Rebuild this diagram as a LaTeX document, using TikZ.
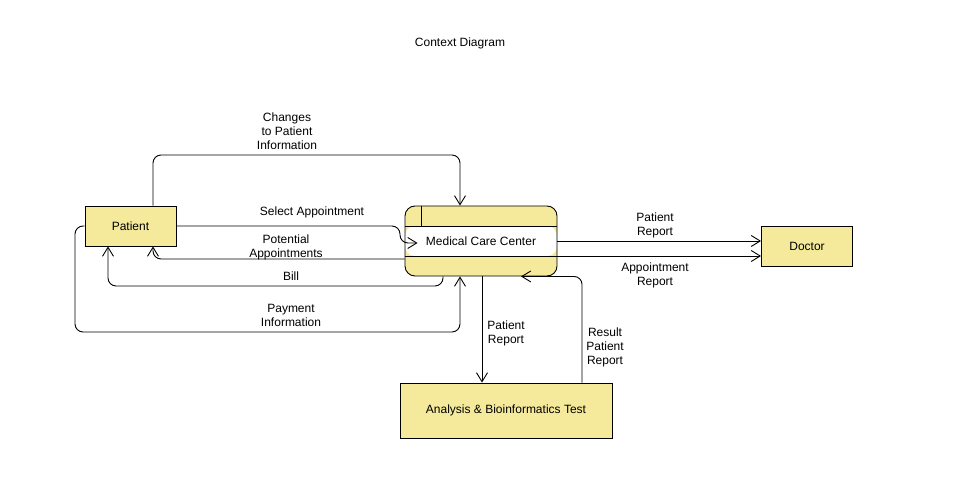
\documentclass[tikz,border=0pt]{standalone}
\usepackage{fontspec}
\setmainfont{Liberation Sans}
\usepackage{tikz}
\definecolor{yellow200}{HTML}{F5EA9B}
\usetikzlibrary{arrows.meta}
\tikzstyle{entity}=[rectangle, draw=black, fill=yellow200, line width=0.9pt, inner sep=0pt, minimum width=91pt, minimum height=40pt]
\tikzstyle{process}=[rectangle, rounded corners=10pt, draw=black, fill=yellow200, line width=0.9pt, inner sep=0pt, minimum width=152pt, minimum height=70pt]
\tikzstyle{flow}=[align=center, font=\fontsize{12}{14}\selectfont]

\begin{document}
\begin{tikzpicture}[x=1pt, y=-1pt, line width=0.9pt, ->, >={Straight Barb[length=9pt,width=11pt]}, font=\fontsize{12}{14}\selectfont]
	\useasboundingbox (0,0) rectangle (965,494);
	\node (title) at (460,43) {Context Diagram};
	\node[entity] (patient) at (130.5,226) {Patient};
	\node[entity] (doctor) at (807,246) {Doctor};
	\node[entity, minimum width=212pt, minimum height=55pt] (analysis) at (506,410.5) {Analysis \& Bioinformatics Test};
	\node[process, path picture={
		\fill[white] ([yshift=15pt]path picture bounding box.west) rectangle ([yshift=-15pt]path picture bounding box.east);
		\draw[-] ([yshift=15pt]path picture bounding box.west) -- ([yshift=15pt]path picture bounding box.east);
		\draw[-] ([yshift=-15pt]path picture bounding box.west) -- ([yshift=-15pt]path picture bounding box.east);
		\draw[-] ([xshift=16pt]path picture bounding box.north west) -- ([shift={(16pt,-20pt)}]path picture bounding box.north west);
	}] (mcc) at (481,241) {Medical Care Center};
	\draw[rounded corners=8pt] ([xshift=22.5pt]patient.north) |- (300,155) -| ([xshift=-21pt]mcc.north);
	\draw[rounded corners=8pt] (patient.east) -- (400,226) -- (400,243) -- ([shift={(13pt,-2pt)}]mcc.west);
	\draw[rounded corners=8pt] ([yshift=-18pt]mcc.west) -| ([xshift=22.5pt]patient.south);
	\draw[rounded corners=8pt] ([xshift=-38pt]mcc.south) |- (300,286) -| ([xshift=-22.5pt]patient.south);
	\draw[rounded corners=8pt] (patient.west) -| (75,332) -| ([xshift=-21pt]mcc.south);
	\draw (mcc.east) -- (mcc.east -| doctor.west);
	\draw ([yshift=-15pt]mcc.east) -- ([yshift=-15pt]mcc.east -| doctor.west);
	\draw ([xshift=1pt]mcc.south) -- ([xshift=-24pt]analysis.north);
	\draw[rounded corners=8pt] ([xshift=76pt]analysis.north) |- ([xshift=40pt]mcc.south);
	\node[flow] (changes) at (287,131) {Changes\\to Patient\\Information};
	\node[flow] (select) at (312,212) {Select Appointment};
	\node[flow] (potential) at (286,247) {Potential\\Appointments};
	\node[flow] (bill) at (291,276) {Bill};
	\node[flow] (payment) at (291,315) {Payment\\Information};
	\node[flow] (report1) at (655,225) {Patient\\Report};
	\node[flow] (appreport) at (655,275) {Appointment\\Report};
	\node[flow] (report2) at (506,333) {Patient\\Report};
	\node[flow] (result) at (605,347) {Result\\Patient\\Report};
\end{tikzpicture}
\end{document}
